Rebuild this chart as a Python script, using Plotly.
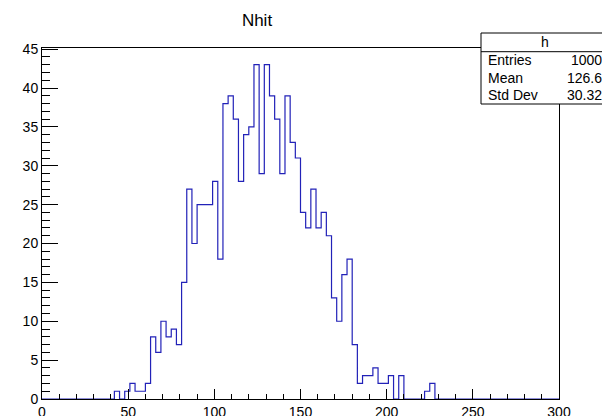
import plotly.graph_objects as go

# Histogram "h" : Nhit, 100 bins from 0 to 300
bin_low = 0.0
bin_width = 3.0
counts = [
    0, 0, 0, 0, 0, 0, 0, 0, 0, 0,          # 0 - 30
    0, 0, 0, 0, 1, 0, 1, 2, 1, 1,          # 30 - 60
    2, 8, 6, 10, 8, 9, 7, 15, 27, 20,      # 60 - 90
    25, 25, 25, 28, 18, 38, 39, 36, 28, 34,  # 90 - 120
    35, 43, 29, 43, 39, 36, 29, 39, 33, 31,  # 120 - 150
    24, 22, 27, 22, 24, 21, 13, 10, 16, 18,  # 150 - 180
    7, 2, 3, 3, 4, 2, 2, 3, 0, 3,          # 180 - 210
    0, 0, 0, 0, 1, 2, 0, 0, 0, 0,          # 210 - 240
    0, 0, 0, 0, 0, 0, 0, 0, 0, 0,          # 240 - 270
    0, 0, 0, 0, 0, 0, 0, 0, 0, 0,          # 270 - 300
]
title_text = "Nhit"
stats_name = "h"
stats_labels = ["Entries", "Mean", "Std Dev"]
stats_values = ["1000", "126.6", "30.32"]
x_range = [0, 300]
y_range = [0, 45.15]

# step outline built from bin edges
edges = [bin_low + i * bin_width for i in range(len(counts) + 1)]
xs = [edges[0]]
ys = [0]
for i, c in enumerate(counts):
    xs += [edges[i], edges[i + 1]]
    ys += [c, c]
xs.append(edges[-1])
ys.append(0)

FONT = "Liberation Sans, Arial, Helvetica, sans-serif"
LINE_COLOR = "#2222b8"

# the page body adds an 8px offset; figure coordinates below compensate
OFF = 8
L, T, W, H = 42 - OFF, 48 - OFF, 517, 351
FIG_W, FIG_H = 610, 416

fig = go.Figure()
fig.add_trace(go.Scatter(x=xs, y=ys, mode="lines",
                         line=dict(color=LINE_COLOR, width=1.2),
                         hoverinfo="skip", showlegend=False))

axis_common = dict(showgrid=False, zeroline=False, showline=True, linecolor="black",
                   linewidth=1, mirror=True, ticks="inside", tickcolor="black",
                   tickwidth=1, layer="above traces", automargin=False,
                   tickfont=dict(family=FONT, size=14, color="black"))

fig.update_layout(
    width=FIG_W, height=FIG_H,
    margin=dict(l=L, r=FIG_W - L - W, t=T, b=FIG_H - T - H),
    paper_bgcolor="white", plot_bgcolor="white",
    title=dict(text=title_text, x=(257 - OFF) / FIG_W, xanchor="center",
               y=1 - (20 - OFF) / FIG_H, yanchor="middle",
               font=dict(family=FONT, size=17, color="black")),
    xaxis=dict(range=x_range, dtick=50, tick0=0, ticklen=10,
               minor=dict(dtick=10, ticks="inside", ticklen=5, tickcolor="black"),
               **axis_common),
    yaxis=dict(range=y_range, dtick=5, tick0=0, ticklen=16,
               minor=dict(dtick=1, ticks="inside", ticklen=8, tickcolor="black"),
               **axis_common),
)

# stats box: window pixel -> paper coordinates
def px(x):
    return (x - OFF - L) / W
def py(y):
    return (T + H - (y - OFF)) / H

bx0, bx1, by0, by1, bymid = 481, 608, 33, 104, 51.7
fig.add_shape(type="rect", xref="paper", yref="paper",
              x0=px(bx0), x1=px(bx1), y0=py(by1), y1=py(by0),
              line=dict(color="black", width=1), fillcolor="white", layer="above")
fig.add_shape(type="line", xref="paper", yref="paper",
              x0=px(bx0), x1=px(bx1), y0=py(bymid), y1=py(bymid),
              line=dict(color="black", width=1), layer="above")
fig.add_annotation(x=px((bx0 + bx1) / 2), y=py(42.3), xref="paper", yref="paper",
                   text=stats_name, showarrow=False, xanchor="center", yanchor="middle",
                   font=dict(family=FONT, size=14, color="black"))
row_h = (by1 - bymid) / len(stats_labels)
for i, (lab, val) in enumerate(zip(stats_labels, stats_values)):
    yc = bymid + row_h * (i + 0.5)
    fig.add_annotation(x=px(486), y=py(yc), xref="paper", yref="paper", text=lab,
                       showarrow=False, xanchor="left", yanchor="middle",
                       font=dict(family=FONT, size=14, color="black"))
    fig.add_annotation(x=px(604), y=py(yc), xref="paper", yref="paper", text=val,
                       showarrow=False, xanchor="right", yanchor="middle",
                       font=dict(family=FONT, size=14, color="black"))

fig.write_html("out.html")
